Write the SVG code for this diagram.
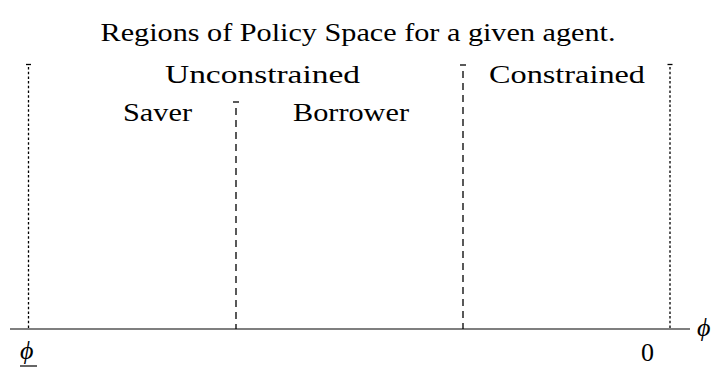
<svg xmlns="http://www.w3.org/2000/svg" width="717" height="371" viewBox="0 0 717 371">
<style>
text{font-family:"Liberation Serif","Times New Roman",serif;font-size:26px;fill:#000}
.dot{stroke:#000;stroke-width:1.3;stroke-dasharray:2.5 2.2;fill:none}
.dash{stroke:#000;stroke-width:1.3;stroke-dasharray:7 5;fill:none}
.cap{stroke:#000;stroke-width:1.3}
.ax{stroke:#000;stroke-width:1.2}
</style>
<rect width="717" height="371" fill="#fff"/>
<text x="358" y="41" text-anchor="middle" textLength="515" lengthAdjust="spacingAndGlyphs">Regions of Policy Space for a given agent.</text>
<g id="connectors">
<line class="ax" x1="10" y1="329" x2="690" y2="329"/>
<g id="line-lower"><line class="dot" x1="28.5" y1="67" x2="28.5" y2="329"/><line class="cap" x1="26" y1="64.5" x2="31" y2="64.5"/></g>
<g id="line-saver"><line class="dash" x1="236" y1="108" x2="236" y2="329"/><line class="cap" x1="233" y1="102" x2="239" y2="102"/></g>
<g id="line-constr"><line class="dash" x1="463" y1="71" x2="463" y2="329"/><line class="cap" x1="460" y1="65" x2="466" y2="65"/></g>
<g id="line-zero"><line class="dot" x1="670" y1="67" x2="670" y2="329"/><line class="cap" x1="667.5" y1="64.5" x2="672.5" y2="64.5"/></g>
</g>
<g id="unconstrained"><text x="165" y="83" textLength="195" lengthAdjust="spacingAndGlyphs">Unconstrained</text></g>
<g id="saver"><text x="123" y="121" textLength="69" lengthAdjust="spacingAndGlyphs">Saver</text></g>
<g id="borrower"><text x="293" y="121" textLength="116" lengthAdjust="spacingAndGlyphs">Borrower</text></g>
<g id="constrained"><text x="489" y="83" textLength="156" lengthAdjust="spacingAndGlyphs">Constrained</text></g>
<g id="phi-axis"><text x="697" y="336" font-style="italic" font-size="28">ϕ</text></g>
<g id="phi-lower"><text x="20" y="359" font-style="italic" font-size="28">ϕ</text><line class="ax" x1="20" y1="366" x2="37" y2="366"/></g>
<g id="zero"><text x="641" y="361" font-size="31">0</text></g>
</svg>
